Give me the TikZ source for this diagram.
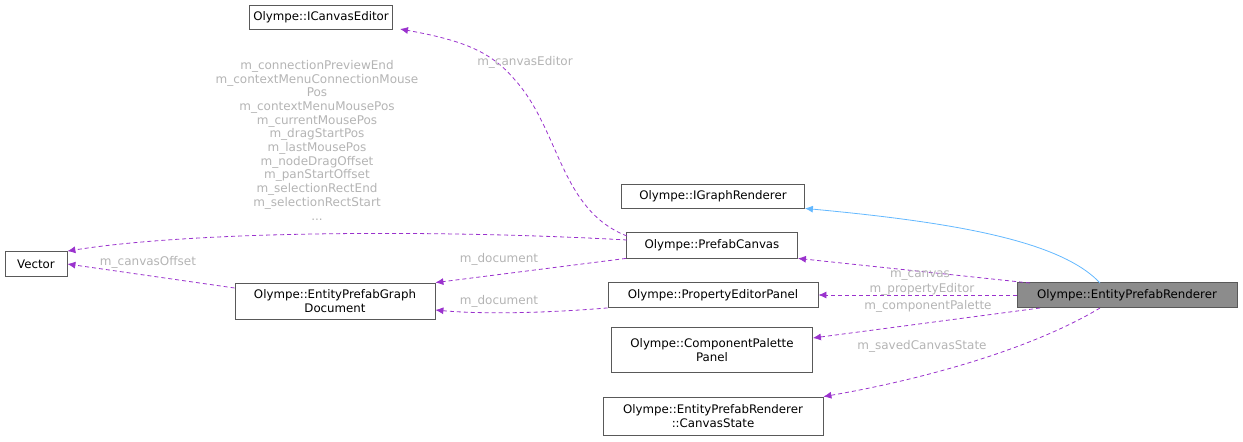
\documentclass[tikz,border=0pt]{standalone}
\usepackage{fontspec}
\setmainfont{DejaVu Sans}
\usetikzlibrary{arrows.meta}
\definecolor{dp}{RGB}{154,50,205}
\definecolor{lb}{RGB}{180,180,180}
\definecolor{bl}{RGB}{99,184,255}
\begin{document}
\begin{tikzpicture}[x=1pt,y=-1pt,
 box/.style={draw=black!65,line width=0.8pt,fill=white,font=\fontsize{11.8}{13.5}\selectfont,inner sep=0pt,align=center},
 dep/.style={draw=dp,line width=0.8pt,dash pattern=on 4pt off 3pt,-{Latex[length=8pt,width=7pt]}},
 lab/.style={font=\fontsize{12}{13.7}\selectfont,text=lb,align=center,inner sep=1pt}]
\useasboundingbox (0,0) rectangle (1243,442);
\node[box,minimum width=143,minimum height=24] (ice) at (321,17) {Olympe::ICanvasEditor};
\node[box,minimum width=183,minimum height=24] (igr) at (713,196) {Olympe::IGraphRenderer};
\node[box,minimum width=62,minimum height=25] (vec) at (36,264) {Vector};
\node[box,minimum width=171,minimum height=26] (pc) at (712,245) {Olympe::PrefabCanvas};
\node[box,minimum width=200,minimum height=36] (doc) at (335,301) {Olympe::EntityPrefabGraph\\Document};
\node[box,minimum width=210,minimum height=25] (pep) at (713,295) {Olympe::PropertyEditorPanel};
\node[box,minimum width=220,minimum height=25,fill=black!45] (epr) at (1127,295) {Olympe::EntityPrefabRenderer};
\node[box,minimum width=201,minimum height=45] (cpp) at (712,350) {Olympe::ComponentPalette\\Panel};
\node[box,minimum width=220,minimum height=38] (cs) at (713,416) {Olympe::EntityPrefabRenderer\\::CanvasState};
\draw[line width=0.8pt,draw=bl,-{Latex[length=8pt,width=7pt]}] (1100,283) .. controls (1060,240) and (950,222) .. (igr.south east);
\draw[dep] (1030,283) -- (pc.south east);
\draw[dep] (epr.west) -- (pep.east);
\draw[dep] (1040,308) -- (cpp.east|-0,338);
\draw[dep] (1100,308) .. controls (1030,350) and (920,380) .. (cs.north east);
\draw[dep] (627,236) .. controls (560,210) and (560,130) .. (515,80) .. controls (490,50) and (460,40) .. (400,29);
\draw[dep] (627,240) .. controls (450,230) and (200,230) .. (vec.north east);
\draw[dep] (pc.south west) -- (doc.north east);
\draw[dep] (pep.south west) .. controls (560,312) and (490,315) .. (doc.east|-0,310);
\draw[dep] (doc.west|-0,288) -- (vec.east);
\node[lab] at (920,276) {m\_canvas};
\node[lab] at (922,289) {m\_propertyEditor};
\node[lab] at (928,306) {m\_componentPalette};
\node[lab] at (922,346) {m\_savedCanvasState};
\node[lab] at (525,62) {m\_canvasEditor};
\node[lab] at (499,259) {m\_document};
\node[lab] at (499,301) {m\_document};
\node[lab] at (148,262) {m\_canvasOffset};
\node[lab,anchor=north] at (317,59) {m\_connectionPreviewEnd\\m\_contextMenuConnectionMouse\\Pos\\m\_contextMenuMousePos\\m\_currentMousePos\\m\_dragStartPos\\m\_lastMousePos\\m\_nodeDragOffset\\m\_panStartOffset\\m\_selectionRectEnd\\m\_selectionRectStart\\...};
\end{tikzpicture}
\end{document}
